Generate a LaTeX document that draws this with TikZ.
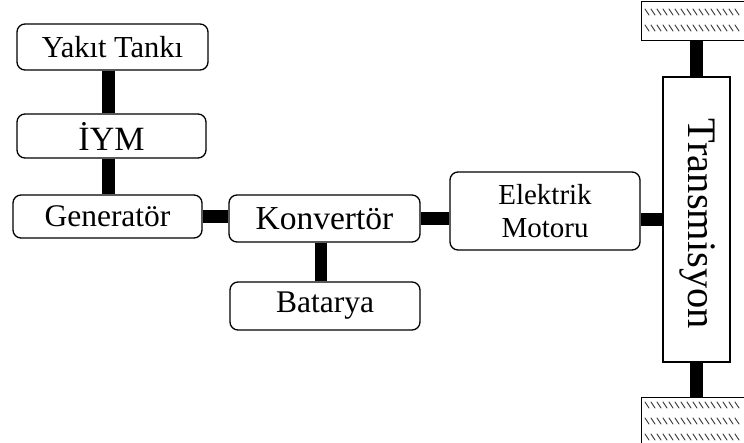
\documentclass[tikz,border=0pt]{standalone}
\usepackage{fontspec}
\setmainfont{Liberation Serif}
\begin{document}
\begin{tikzpicture}[x=1pt,y=-1pt,
  blk/.style={draw=black,line width=1.3pt,rounded corners=8pt,inner sep=0pt,anchor=center},
  conn/.style={line width=12.5pt,draw=black},
  gnd/.style={draw=black,line width=1.3pt,inner sep=0pt,anchor=north west},
  hatch/.style={line width=0.9pt,draw=black!80,line cap=round}]
\useasboundingbox (0,0) rectangle (744,443);
\node[blk,minimum width=191pt,minimum height=46pt,font=\fontsize{30.5}{34}\selectfont] (yakit) at (112.5,47) {Yakıt Tankı};
\node[blk,minimum width=189pt,minimum height=44pt,font=\fontsize{34}{38}\selectfont] (iym) at (111.5,136) {İYM};
\node[blk,minimum width=189pt,minimum height=43pt,font=\fontsize{31.5}{35}\selectfont] (gen) at (107.5,216.5) {Generatör};
\node[blk,minimum width=191pt,minimum height=47pt,font=\fontsize{33.5}{37}\selectfont] (konv) at (324.5,218.5) {Konvertör};
\node[blk,minimum width=190pt,minimum height=48pt,font=\fontsize{31.5}{35}\selectfont] (bat) at (325,306) {Batarya};
\node[blk,minimum width=190pt,minimum height=78pt,align=center,font=\fontsize{29}{33}\selectfont] (em) at (545,211) {Elektrik\\Motoru};
\node[blk,rounded corners=0pt,minimum width=67pt,minimum height=285pt] (trans) at (696.5,219.5) {};
\node[rotate=-90,font=\fontsize{40.5}{44}\selectfont,inner sep=0pt] (transtxt) at (698,224) {Transmisyon};
\node[gnd,minimum width=103pt,minimum height=39pt] (gtop) at (641,1) {};
\node[gnd,minimum width=103pt,minimum height=50pt] (gbot) at (641,397) {};
% hatching
\foreach \yy in {12,28} {
  \foreach \xx in {645,651,...,739} {
    \draw[hatch] (\xx,\yy-3) -- (\xx+4,\yy+3);
  }
}
\foreach \yy in {405,421,437} {
  \foreach \xx in {645,651,...,739} {
    \draw[hatch] (\xx,\yy-3) -- (\xx+4,\yy+3);
  }
}
% connectors
\draw[conn] (yakit.south -| 108.5,0) -- (iym.north -| 108.5,0);
\draw[conn] (iym.south -| 108.5,0) -- (gen.north -| 108.5,0);
\draw[conn] (gen.east) -- (gen.east -| konv.west);
\draw[conn] (konv.east) -- (konv.east -| em.west);
\draw[conn] (konv.south -| 321,0) -- (bat.north -| 321,0);
\draw[conn] (trans.west) -- (trans.west -| em.east);
\draw[conn] (trans.north) -- (gtop.south -| trans.north);
\draw[conn] (trans.south) -- (gbot.north -| trans.south);
\end{tikzpicture}
\end{document}
